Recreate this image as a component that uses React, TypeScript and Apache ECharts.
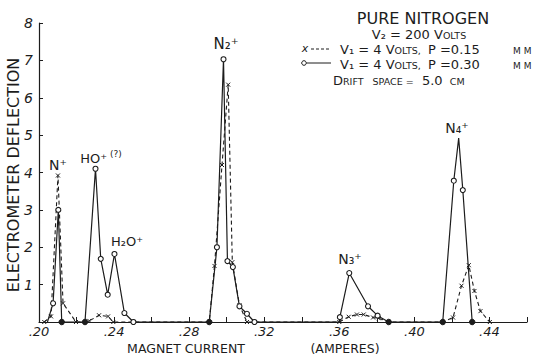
import React, { useEffect, useRef } from 'react';
import * as echarts from 'echarts';

// x tick labels (magnet current, amperes) and y tick labels (electrometer deflection)
const xTickLabels = ['.20', '.24', '.28', '.32', '.36', '.40', '.44'];
const yTickLabels = ['1', '2', '3', '4', '5', '6', '7', '8'];

// Solid curve: V1 = 4 Volts, P = 0.30 mm (open circles)
const solidX = [0.2045, 0.2075, 0.2103, 0.2121, 0.2245, 0.2301, 0.2329, 0.2366, 0.2402, 0.2455, 0.2503,
  0.2907, 0.2948, 0.2983, 0.3004, 0.3033, 0.3068, 0.3108, 0.3148,
  0.3600, 0.3603, 0.3653, 0.3753, 0.3804, 0.3863,
  0.4151, 0.4210, 0.4236, 0.4258, 0.4308];
const solidY = [0, 0.5, 3.0, 0, 0, 4.1, 1.69, 0.73, 1.82, 0.24, 0,
  0, 2.0, 7.03, 1.63, 1.47, 0.42, 0.22, 0,
  0, 0.13, 1.31, 0.42, 0.17, 0,
  0, 3.78, 4.92, 3.53, 0];
// marker kind drawn at each solid point: o = open circle, dot = filled, none = no marker
const solidKind = ['none', 'o', 'o', 'dot', 'dot', 'o', 'o', 'o', 'o', 'o', 'o',
  'dot', 'o', 'o', 'o', 'o', 'o', 'o', 'o',
  'none', 'o', 'o', 'o', 'o', 'dot',
  'dot', 'o', 'none', 'o', 'dot'];

// Dashed curve: V1 = 4 Volts, P = 0.15 mm (x marks)
const dashX = [0.2028, 0.2064, 0.2101, 0.2128, 0.2197, 0.2245, 0.2268, 0.2320, 0.2368, 0.2396,
  0.2907, 0.2935, 0.2975, 0.3008, 0.3030, 0.3068, 0.3108,
  0.3600, 0.3650, 0.3694, 0.3730, 0.3780, 0.3810, 0.3863,
  0.4151, 0.4206, 0.4251, 0.4290, 0.4320, 0.4352, 0.4402];
const dashY = [0, 0.15, 3.92, 0.5, 0, 0, 0.03, 0.18, 0.15, 0,
  0, 1.5, 4.2, 6.35, 1.6, 0.45, 0,
  0, 0.14, 0.2, 0.2, 0.12, 0.1, 0,
  0, 0.12, 0.97, 1.52, 0.83, 0.29, 0];

const INK = '#1c1c1c';
const FONT = 'DejaVu Sans';
const X_MARK = 'path://M0,0L10,10M10,0L0,10';

export default function App() {
  const ref = useRef<HTMLDivElement>(null);

  useEffect(() => {
    if (!ref.current) return;
    const chart = echarts.init(ref.current, null, { renderer: 'svg' });

    const solidData = solidX.map((x, i) => {
      const k = solidKind[i];
      return {
        value: [x, solidY[i]],
        symbol: k === 'none' ? 'none' : 'circle',
        symbolSize: k === 'dot' ? 5.5 : 5,
        itemStyle: k === 'dot'
          ? { color: INK, borderColor: INK, borderWidth: 1 }
          : { color: '#ffffff', borderColor: INK, borderWidth: 1.1 },
      };
    });
    const dashData = dashX.map((x, i) => ({ value: [x, dashY[i]] }));

    const rich = {
      b: { fontSize: 13, fontFamily: FONT, color: INK, verticalAlign: 'bottom', lineHeight: 15 },
      sc: { fontSize: 9.5, fontFamily: FONT, color: INK, verticalAlign: 'bottom', lineHeight: 15 },
      mm: { fontSize: 9, fontFamily: FONT, color: INK, verticalAlign: 'bottom', lineHeight: 15 },
      q: { fontSize: 9, fontFamily: FONT, color: INK, verticalAlign: 'top', lineHeight: 15 },
    };

    const txt = (x: number, y: number, text: string, align: string, extra: any = {}) => ({
      type: 'text', x, y, silent: true,
      style: { text, fill: INK, font: `14px "${FONT}"`, align, verticalAlign: 'middle', rich, ...extra },
    });

    chart.setOption({
      animation: false,
      backgroundColor: '#ffffff',
      grid: { left: 39, right: 19, top: 23, bottom: 34, containLabel: false },
      xAxis: {
        type: 'value', min: 0.2, max: 0.46, interval: 0.02,
        axisLine: { show: true, onZero: false, lineStyle: { color: INK, width: 1.2 } },
        axisTick: { show: true, inside: true, length: 5, lineStyle: { color: INK, width: 1 } },
        splitLine: { show: false },
        axisLabel: {
          margin: 3, color: INK, fontSize: 13, fontStyle: 'italic', fontFamily: FONT,
          formatter: (v: number) => {
            const k = Math.round(v * 100);
            if ((k - 20) % 4 !== 0) return '';
            return xTickLabels[(k - 20) / 4] ?? '';
          },
        },
      },
      yAxis: {
        type: 'value', min: 0, max: 8, interval: 1,
        axisLine: { show: true, lineStyle: { color: INK, width: 1.2 } },
        axisTick: { show: true, inside: true, length: 4, lineStyle: { color: INK, width: 1 } },
        splitLine: { show: false },
        axisLabel: {
          margin: 6, color: INK, fontSize: 14, fontStyle: 'italic', fontFamily: FONT,
          formatter: (v: number) => (v === 0 ? '' : yTickLabels[Math.round(v) - 1] ?? ''),
        },
      },
      series: [
        {
          type: 'line', name: 'P = 0.30 mm', data: solidData, z: 3,
          lineStyle: { color: INK, width: 1.2, type: 'solid' },
          showSymbol: true,
        },
        {
          type: 'line', name: 'P = 0.15 mm', data: dashData, z: 2,
          symbol: X_MARK, symbolSize: 4,
          itemStyle: { color: INK, borderColor: INK, borderWidth: 1 },
          lineStyle: { color: INK, width: 1.1, type: [4, 3] },
        },
      ],
      graphic: [
        // axis names
        {
          type: 'text', x: 13, y: 175, rotation: Math.PI / 2, silent: true,
          style: { text: 'ELECTROMETER DEFLECTION', fill: INK, font: `16px "${FONT}"`, align: 'center', verticalAlign: 'middle' },
        },
        txt(186, 348, 'MAGNET CURRENT', 'center', { font: `12.5px "${FONT}"` }),
        txt(345, 348, '(AMPERES)', 'center', { font: `12.5px "${FONT}"` }),
        // title block
        txt(423, 18, 'PURE NITROGEN', 'center', { font: `16px "${FONT}"` }),
        txt(419, 33, '{b|V₂ = 200 V}{sc|OLTS}', 'center'),
        // legend samples
        txt(305, 48, 'x', 'center', { font: `italic 11px "${FONT}"` }),
        { type: 'line', silent: true, shape: { x1: 311, y1: 49, x2: 331, y2: 49 }, style: { stroke: INK, lineWidth: 1, lineDash: [3, 2] } },
        { type: 'circle', silent: true, shape: { cx: 304, cy: 63, r: 2.3 }, style: { stroke: INK, fill: '#fff', lineWidth: 1 } },
        { type: 'line', silent: true, shape: { x1: 306.5, y1: 63, x2: 331, y2: 63 }, style: { stroke: INK, lineWidth: 1 } },
        txt(340, 48, '{b|V₁ = 4 V}{sc|OLTS,}', 'left'),
        txt(428, 48, '{b|P =0.15}', 'left'),
        txt(513, 48, '{mm|M M}', 'left'),
        txt(340, 63, '{b|V₁ = 4 V}{sc|OLTS,}', 'left'),
        txt(428, 63, '{b|P =0.30}', 'left'),
        txt(513, 63, '{mm|M M}', 'left'),
        txt(333, 79, '{b|D}{sc|RIFT}{sc|   SPACE =}{b|  5.0 }{sc| CM}', 'left'),
        // peak labels
        txt(58, 165, 'N⁺', 'center'),
        txt(101, 157, '{b|HO⁺}{q| (?)}', 'center'),
        txt(127, 241, 'H₂O⁺', 'center', { font: `13px "${FONT}"` }),
        txt(226, 44, 'N₂⁺', 'center', { font: `15px "${FONT}"` }),
        txt(350, 259, 'N₃⁺', 'center'),
        txt(457, 128, 'N₄⁺', 'center'),
      ],
    });

    return () => chart.dispose();
  }, []);

  return <div ref={ref} style={{ position: 'fixed', left: 0, top: 0, width: 546, height: 356, background: '#fff' }} />;
}
